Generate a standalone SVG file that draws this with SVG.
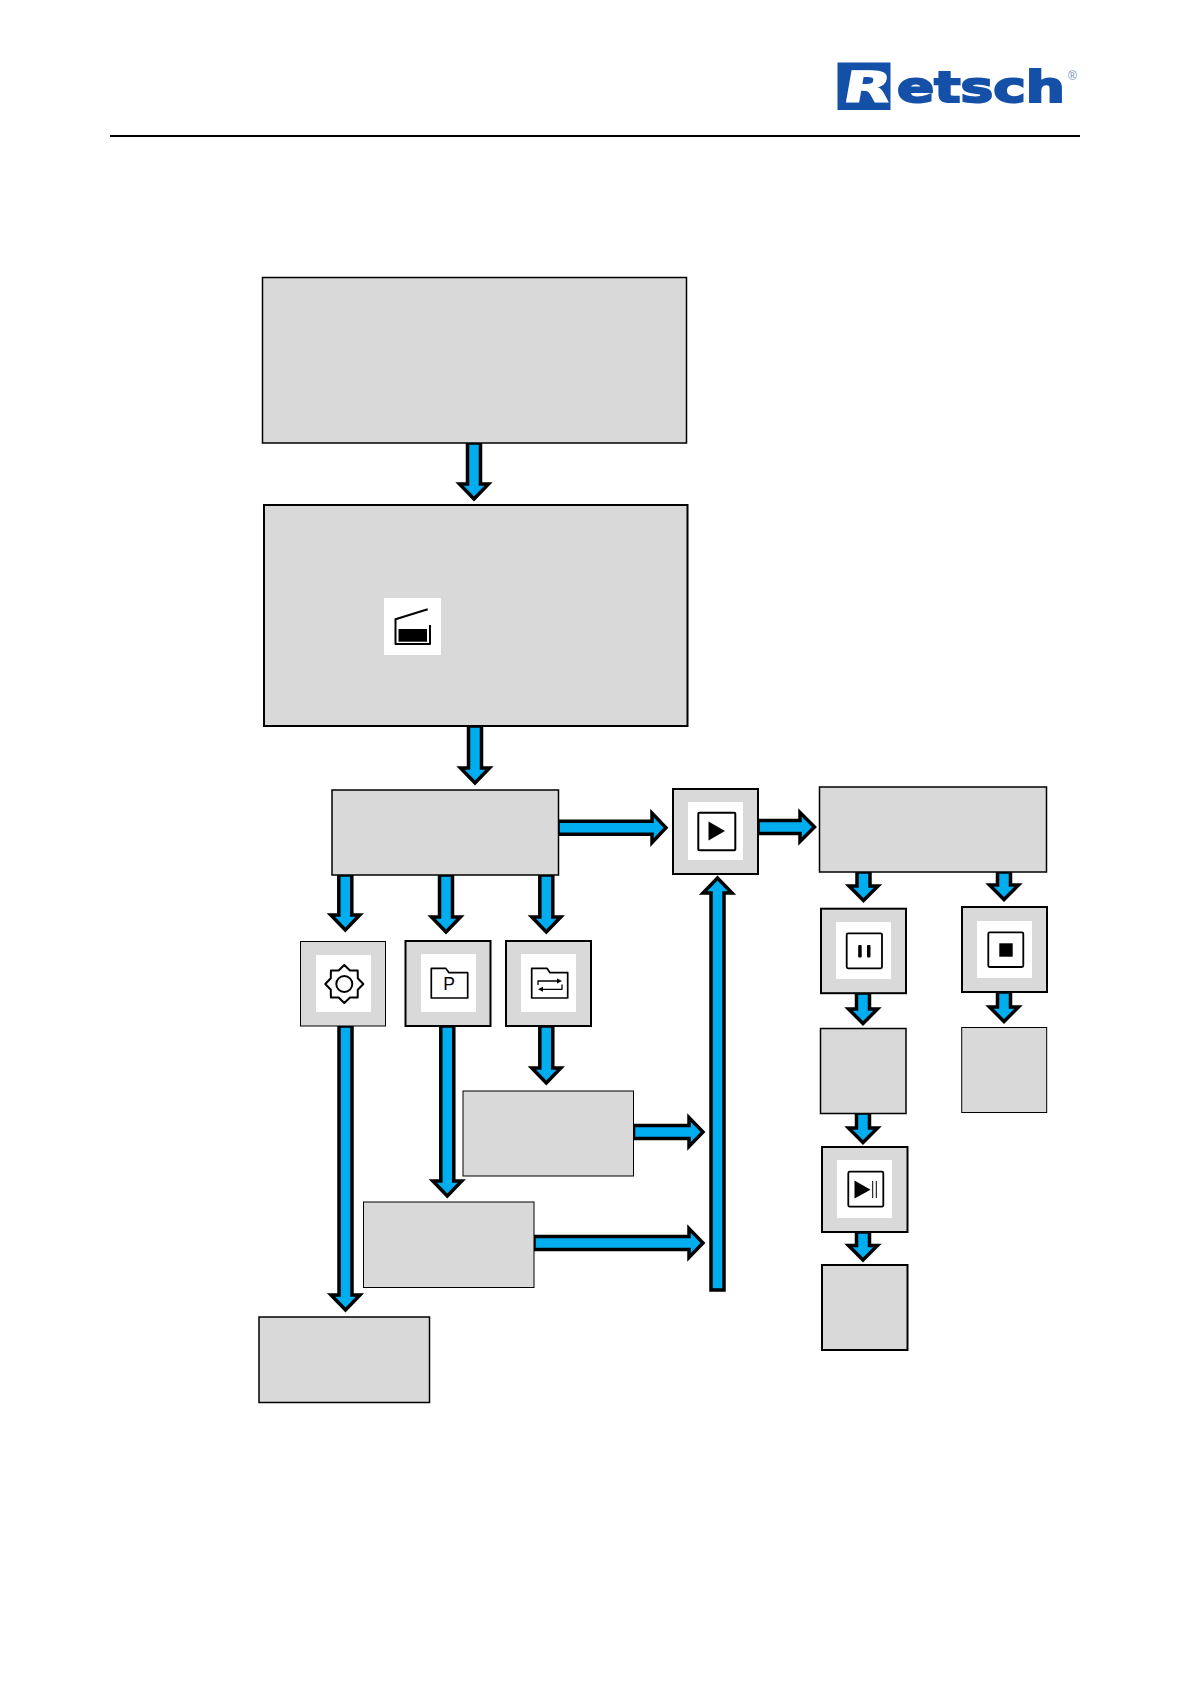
<svg xmlns="http://www.w3.org/2000/svg" width="1191" height="1684" viewBox="0 0 1191 1684">
<style>
.b{fill:#d9d9d9;stroke:#000}
.t1{stroke-width:1}
.t2{stroke-width:1.5}
.t3{stroke-width:2}
.w{fill:#fff}
.a{fill:#00adef;stroke:#000;stroke-width:3.5;stroke-linejoin:miter}
.i{fill:none;stroke:#000;stroke-width:2;stroke-linejoin:round}
.k{fill:#000}
.logo{fill:#1450a8}
</style>
<rect width="1191" height="1684" fill="#fff"/>
<g id="logo">
<rect class="logo" x="837.5" y="62.5" width="53" height="47.5"/>
<text x="841" y="102" font-family="'DejaVu Sans',sans-serif" font-weight="700" font-size="43" fill="#fff" stroke="#fff" stroke-width="1" textLength="48" lengthAdjust="spacingAndGlyphs" transform="skewX(-10) translate(18,0)">R</text>
<text class="logo" x="897" y="102" font-family="'DejaVu Sans',sans-serif" font-weight="700" font-size="42" stroke="#1450a8" stroke-width="2" textLength="168" lengthAdjust="spacingAndGlyphs">etsch</text>
<text x="1068" y="80" font-family="'Liberation Sans',sans-serif" font-size="12" fill="#6f8fc8">®</text>
</g>
<line id="header-rule" x1="110" y1="136" x2="1080" y2="136" stroke="#000" stroke-width="2"/>
<g id="connectors">
<polygon class="a" points="467.500,443 480.500,443 480.500,484 488.500,484 474,499 459.500,484 467.500,484"/>
<polygon class="a" points="468.500,726 481.500,726 481.500,768 489.500,768 475,783 460.500,768 468.500,768"/>
<polygon class="a" points="338.800,875 351.800,875 351.800,915 359.800,915 345.300,930 330.800,915 338.800,915"/>
<polygon class="a" points="439.500,875 452.500,875 452.500,917 460.500,917 446,932 431.500,917 439.500,917"/>
<polygon class="a" points="539.800,875 552.800,875 552.800,917 560.800,917 546.300,932 531.800,917 539.800,917"/>
<polygon class="a" points="339,1026 352,1026 352,1295 360,1295 345.500,1310 331,1295 339,1295"/>
<polygon class="a" points="440.800,1026 453.800,1026 453.800,1181 461.800,1181 447.300,1196 432.800,1181 440.800,1181"/>
<polygon class="a" points="539.800,1026 552.800,1026 552.800,1068 560.800,1068 546.300,1083 531.800,1068 539.800,1068"/>
<polygon class="a" points="558,821.200 652,821.200 652,813 666,827.700 652,842.500 652,834.200 558,834.200"/>
<polygon class="a" points="758,820.500 800,820.500 800,812.500 814.500,827 800,841.500 800,833.500 758,833.500"/>
<polygon class="a" points="857,872 870,872 870,886 878,886 863.500,900.500 849,886 857,886"/>
<polygon class="a" points="997.500,872 1010.500,872 1010.500,885 1018.500,885 1004,899.500 989.500,885 997.500,885"/>
<polygon class="a" points="856.500,993 869.500,993 869.500,1009 877.500,1009 863,1023.500 848.500,1009 856.500,1009"/>
<polygon class="a" points="997.500,992 1010.500,992 1010.500,1007 1018.500,1007 1004,1021.500 989.500,1007 997.500,1007"/>
<polygon class="a" points="856.500,1113 869.500,1113 869.500,1128 877.500,1128 863,1142.500 848.500,1128 856.500,1128"/>
<polygon class="a" points="856.500,1232 869.500,1232 869.500,1245.500 877.500,1245.500 863,1260 848.500,1245.500 856.500,1245.500"/>
<polygon class="a" points="711,1290 724,1290 724,893 732,893 717.500,878 703,893 711,893"/>
<polygon class="a" points="633.500,1125.500 689,1125.500 689,1117.500 703,1132 689,1146.500 689,1138.500 633.500,1138.500"/>
<polygon class="a" points="534,1236.500 689,1236.500 689,1228.500 703,1243 689,1257.500 689,1249.500 534,1249.500"/>
</g>
<g id="node-1"><rect class="b t2" x="262.500" y="277.500" width="424" height="165.500"/></g>
<g id="node-2">
<rect class="b t3" x="264" y="505" width="423.500" height="221"/>
<rect class="w" x="384" y="598" width="57" height="57"/>
<path class="i" d="M427.700 609.300L395.500 619.300V644H430V625"/>
<rect class="k" x="398.500" y="629" width="28.500" height="12.700"/>
</g>
<g id="node-3"><rect class="b t2" x="332" y="790" width="226.500" height="85"/></g>
<g id="node-gear">
<rect class="b t1" x="300.500" y="941.500" width="85" height="84.500"/>
<rect class="w" x="316" y="955" width="55" height="57"/>
<polygon class="i" points="344.300,965 350,970.500 357.700,970.600 357.800,978.300 363.300,984 357.800,989.700 357.700,997.400 350,997.500 344.300,1003 338.600,997.500 330.900,997.400 330.800,989.700 325.300,984 330.800,978.300 330.900,970.600 338.600,970.500"/>
<circle class="i" cx="344.300" cy="984" r="8"/>
</g>
<g id="node-program">
<rect class="b t3" x="405.500" y="941" width="85" height="85"/>
<rect class="w" x="421" y="954" width="55" height="58"/>
<path class="i" style="stroke-width:1.700" d="M431.300 968.300H445.700L449 972.700H467.700V998H431.300Z"/>
<text x="449" y="990" text-anchor="middle" font-family="'Liberation Sans',sans-serif" font-size="17.500" fill="#000">P</text>
</g>
<g id="node-folder">
<rect class="b t3" x="506" y="941" width="85" height="85"/>
<rect class="w" x="521" y="954" width="55" height="58"/>
<path class="i" style="stroke-width:1.700" d="M531.700 968.300H547L550 972.700H567.700V998H531.700Z"/>
<path class="i" style="stroke-width:1.300" d="M538 985V981H558M562 984.500V989.300H542"/>
<polygon class="k" points="557,978.500 562,981 557,983.500"/>
<polygon class="k" points="543,986.800 538,989.300 543,991.800"/>
</g>
<g id="node-4"><rect class="b t1" x="463" y="1091" width="170.500" height="85"/></g>
<g id="node-5"><rect class="b t1" x="363.500" y="1202" width="170.500" height="85.500"/></g>
<g id="node-6"><rect class="b t2" x="259" y="1317" width="170.500" height="85.500"/></g>
<g id="node-play">
<rect class="b t3" x="673" y="789" width="85" height="85"/>
<rect class="w" x="688" y="802" width="55" height="58"/>
<rect x="698.300" y="812.700" width="37" height="37.600" rx="1" fill="none" stroke="#000" stroke-width="2"/>
<polygon class="k" points="708.500,821.500 725,831 708.500,840.500"/>
</g>
<g id="node-7"><rect class="b t2" x="819.500" y="787" width="227" height="85"/></g>
<g id="node-pause">
<rect class="b t3" x="821" y="908.700" width="85" height="84.500"/>
<rect class="w" x="836" y="922" width="55" height="57"/>
<rect x="846.700" y="933.300" width="35.300" height="35" rx="1.500" fill="none" stroke="#000" stroke-width="1.800"/>
<rect class="k" x="858.200" y="945" width="3.500" height="12.500" rx="1"/>
<rect class="k" x="867" y="945" width="3.500" height="12.500" rx="1"/>
</g>
<g id="node-stop">
<rect class="b t3" x="962" y="907" width="85" height="85"/>
<rect class="w" x="977" y="921" width="55" height="57"/>
<rect x="988.300" y="932.300" width="35" height="34.700" rx="1.500" fill="none" stroke="#000" stroke-width="1.800"/>
<rect class="k" x="999.300" y="943.300" width="13.400" height="13.400"/>
</g>
<g id="node-8"><rect class="b t2" x="820.500" y="1028.500" width="85.500" height="85"/></g>
<g id="node-9"><rect class="b t1" x="961.700" y="1027.500" width="85" height="85"/></g>
<g id="node-step">
<rect class="b t3" x="822" y="1147" width="85.500" height="85"/>
<rect class="w" x="837" y="1160" width="55" height="58"/>
<rect x="848.300" y="1171.700" width="35" height="35" rx="1.500" fill="none" stroke="#000" stroke-width="1.800"/>
<polygon class="k" points="854.500,1180.500 870.500,1189.700 854.500,1198.500"/>
<line x1="872.700" y1="1181" x2="872.700" y2="1198" stroke="#000" stroke-width="1"/>
<line x1="876.300" y1="1181" x2="876.300" y2="1198" stroke="#000" stroke-width="1"/>
</g>
<g id="node-10"><rect class="b t3" x="822" y="1265" width="85.500" height="85"/></g>
</svg>
